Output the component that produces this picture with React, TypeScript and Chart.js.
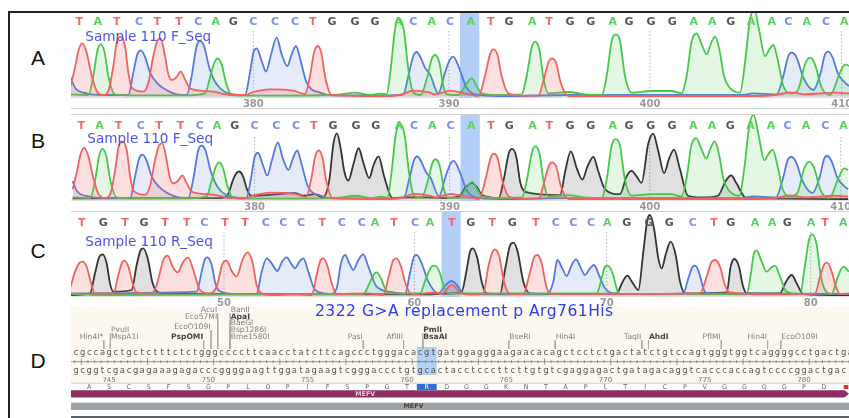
import React, { useEffect, useRef } from "react";
import { Chart, registerables } from "chart.js";

Chart.register(...registerables);

// Trace data: [scan, signal]
const redFwd = [[212,30],[225,85],[235,135],[247,158],[260,130],[272,75],[290,15],[310,3],[325,15],[340,90],[350,160],[362,178],[375,150],[385,70],[395,25],[430,13],[445,40],[460,120],[472,165],[482,173],[495,120],[505,65],[515,48],[528,55],[542,73],[555,50],[570,23],[600,16],[640,13],[690,3],[735,3],[760,12],[810,20],[880,16],[915,6],[930,60],[942,130],[953,150],[965,125],[975,60],[995,3],[1150,0],[1200,3],[1240,16],[1290,10],[1305,5],[1350,16],[1395,8],[1435,0],[1455,60],[1470,125],[1480,140],[1492,125],[1505,60],[1525,8],[1565,1],[1615,1],[1630,45],[1645,100],[1655,113],[1668,100],[1682,40],[1705,0],[2275,0],[2325,3],[2375,11],[2415,5],[2505,10],[2547,8]];
const greenFwd = [[212,5],[265,3],[280,60],[292,135],[302,155],[314,130],[325,60],[345,5],[400,2],[560,2],[615,8],[630,55],[643,100],[653,113],[665,95],[678,40],[695,3],[735,1],[1000,3],[1065,10],[1110,3],[1140,7],[1160,5],[1172,80],[1185,200],[1198,232],[1212,195],[1225,80],[1240,10],[1262,3],[1280,50],[1295,110],[1305,123],[1318,100],[1330,30],[1340,5],[1375,3],[1395,30],[1415,53],[1430,30],[1445,8],[1495,3],[1565,5],[1580,60],[1595,145],[1605,163],[1618,140],[1630,55],[1645,8],[1705,12],[1755,5],[1805,3],[1820,60],[1835,165],[1848,185],[1860,165],[1875,60],[1895,10],[1955,15],[2015,15],[2045,8],[2060,60],[2075,165],[2090,188],[2105,155],[2120,125],[2132,155],[2145,178],[2158,140],[2172,60],[2185,30],[2220,10],[2235,100],[2250,230],[2263,260],[2277,200],[2295,120],[2308,140],[2320,153],[2335,100],[2350,30],[2375,8],[2395,20],[2415,95],[2430,115],[2445,95],[2465,25],[2490,3],[2520,70],[2535,95],[2547,90]];
const blueFwd = [[212,55],[225,25],[260,8],[310,3],[385,3],[400,70],[412,125],[423,137],[436,115],[450,70],[470,40],[520,8],[560,3],[575,60],[590,150],[600,165],[612,150],[628,85],[650,35],[700,5],[735,3],[750,70],[760,130],[770,143],[785,105],[798,73],[812,120],[830,175],[845,125],[862,90],[875,125],[888,150],[902,105],[920,40],[960,10],[1000,2],[1150,2],[1210,5],[1225,60],[1240,120],[1250,132],[1262,115],[1275,85],[1290,65],[1315,8],[1335,70],[1350,110],[1360,118],[1375,90],[1400,25],[1435,3],[1530,0],[1700,3],[2230,3],[2260,8],[2330,5],[2350,60],[2365,120],[2375,130],[2390,115],[2410,55],[2440,18],[2462,70],[2475,125],[2485,133],[2498,115],[2515,65],[2535,40],[2547,30]];
const blackFwd = [[212,2],[660,3],[680,15],[695,60],[705,80],[713,85],[725,70],[737,30],[750,10],[800,12],[880,18],[910,10],[940,15],[965,5],[985,60],[997,170],[1008,203],[1020,150],[1030,85],[1042,57],[1058,110],[1073,157],[1088,110],[1105,65],[1118,105],[1133,132],[1150,70],[1175,3],[1220,5],[1275,5],[1330,3],[1375,8],[1395,35],[1415,50],[1430,35],[1445,12],[1495,3],[1510,60],[1525,140],[1535,155],[1548,130],[1560,50],[1575,22],[1680,12],[1695,85],[1712,147],[1730,95],[1747,60],[1762,100],[1780,130],[1795,85],[1815,30],[1860,15],[1880,70],[1895,87],[1910,70],[1925,50],[1945,170],[1960,202],[1975,150],[1993,80],[2008,125],[2023,153],[2040,95],[2065,10],[2110,5],[2155,10],[2178,55],[2195,73],[2210,50],[2240,3],[2275,2],[2547,0]];

const redRev = [[212,25],[225,70],[237,95],[247,100],[260,85],[272,40],[285,5],[340,5],[355,60],[365,95],[373,103],[385,85],[398,35],[410,8],[455,5],[470,30],[490,105],[503,118],[518,85],[533,68],[550,100],[565,112],[580,75],[600,15],[625,5],[650,25],[668,95],[680,103],[695,72],[710,55],[727,105],[742,128],[757,100],[770,30],[785,5],[820,0],[890,3],[935,0],[950,60],[962,105],[970,110],[983,85],[995,35],[1010,3],[1100,5],[1150,0],[1165,50],[1180,105],[1190,110],[1203,85],[1218,30],[1235,3],[1275,5],[1305,8],[1325,3],[1355,30],[1385,5],[1420,2],[1450,5],[1465,85],[1478,130],[1485,137],[1498,115],[1512,40],[1530,3],[1570,3],[1588,60],[1603,115],[1612,120],[1625,95],[1638,30],[1650,3],[1700,3],[1800,3],[2100,5],[2120,55],[2135,100],[2145,105],[2160,85],[2175,30],[2190,8],[2300,2],[2445,4],[2460,55],[2475,95],[2482,97],[2495,70],[2508,25],[2520,3],[2547,5]];
const greenRev = [[212,3],[300,0],[1090,3],[1108,35],[1122,62],[1130,68],[1143,50],[1155,20],[1170,5],[1260,5],[1278,50],[1295,85],[1305,88],[1318,70],[1332,25],[1345,5],[1790,5],[1805,50],[1815,85],[1823,88],[1838,65],[1850,20],[1860,3],[2240,2],[2252,60],[2262,125],[2270,134],[2285,100],[2300,70],[2313,82],[2325,88],[2340,55],[2360,10],[2400,3],[2415,90],[2428,170],[2437,182],[2450,150],[2462,60],[2475,15],[2495,3],[2512,50],[2530,85],[2547,70]];
const blueRev = [[212,5],[590,10],[605,70],[615,108],[622,113],[635,90],[645,40],[655,15],[700,3],[770,3],[785,70],[800,110],[815,95],[832,72],[846,100],[860,113],[873,95],[885,80],[898,100],[910,110],[925,70],[945,15],[990,3],[1010,20],[1023,95],[1035,120],[1048,95],[1060,75],[1075,105],[1090,122],[1105,85],[1130,25],[1180,8],[1215,3],[1230,65],[1242,115],[1250,120],[1265,95],[1285,40],[1315,5],[1335,28],[1355,42],[1372,28],[1390,5],[1420,2],[1640,2],[1660,40],[1672,105],[1687,80],[1700,57],[1715,90],[1728,107],[1742,82],[1755,60],[1770,80],[1782,90],[1797,60],[1815,20],[1850,3],[2050,5],[2065,50],[2078,85],[2085,88],[2098,65],[2110,20],[2120,5],[2547,3]];
const blackRev = [[212,0],[270,5],[285,65],[298,115],[308,122],[320,95],[330,35],[340,10],[395,15],[410,90],[422,135],[430,140],[443,110],[458,35],[475,8],[520,3],[1275,2],[1350,5],[1385,10],[1400,75],[1410,130],[1418,140],[1432,110],[1445,40],[1460,5],[1500,3],[1515,75],[1530,148],[1540,157],[1553,130],[1570,40],[1590,5],[1650,3],[1850,5],[1868,40],[1882,58],[1897,38],[1915,15],[1930,130],[1942,225],[1950,240],[1962,200],[1975,110],[1985,80],[1998,125],[2012,160],[2027,120],[2040,40],[2055,5],[2180,8],[2192,85],[2203,108],[2217,85],[2228,30],[2240,5],[2340,5],[2358,40],[2375,60],[2390,35],[2410,3],[2547,0]];

// Base calls
const callsFwd = "TATCTTCAGCCCTGGGACACATGATGGAGGGAAGAACACA".split("");
const callScansFwd = [238,293,350,417,472,537,595,647,700,760,825,885,938,996,1065,1125,1195,1240,1295,1350,1412,1472,1527,1597,1647,1710,1772,1838,1887,1953,2017,2081,2137,2192,2253,2315,2365,2420,2478,2533];
const callsRev = "TGTGTTCTTCCCTCCATCATGTGTCCCAGGGCTGAAGATA".split("");
const callScansRev = [245,310,375,432,495,560,613,675,735,797,850,903,967,1025,1085,1125,1182,1245,1290,1355,1412,1477,1537,1607,1667,1720,1773,1822,1880,1947,2008,2078,2142,2192,2265,2317,2362,2433,2475,2530];

// Rulers
const rulerScansFwd = [760,1347,1950,2525];
const rulerLabelsFwd = ["380","390","400","410"];
const rulerScansRev = [672,1243,1820,2432];
const rulerLabelsRev = ["50","60","70","80"];

// Panel D
const panelNames = ["A","B","C","D"];
const strandTop = "cgccagctgctctttctctgggccccttcaacctatcttcagccctgggacacgtgatggagggaagaacacagctcctctgactatctgtccagtgggtggtcaggggcctgactga";
const strandBottom = "gcggtcgacgagaaagagacccggggaagttggatagaagtcgggaccctgtgcactacctcccttcttgtgtcgaggagactgatagacaggtcacccaccagtccccggactgact";
const residues = "ASCSFSGPLQPIFSPGTRDGGKNTAPLTICPVGGQGPD";
const residueNumbers = [745,750,755,760,765,770,775,780];
const enzymeNames = ["Hin4I*","PvuII","MspA1I","PspOMI","EcoO109I","AcuI","Eco57MI","BanII","ApaI","BaeGI","Bsp1286I","Bme1580I","PasI","AflIII","PmlI","BsaAI","BseRI","Hin4I","TaqII","AhdI","PflMI","Hin4I","EcoO109I"];
const enzymeSites = [4.2,5.2,5.2,19.3,20.4,21.4,21.4,23.3,23.3,23.3,23.3,23.3,43.4,49.5,52.4,52.4,65.4,72.4,85.5,86.5,97.5,104.5,106.5];
const enzymeRows = [0,1,0,0,1.5,4,3,4,3,2,1,0,0,0,1,0,0,0,0,0,0,0,0];
const enzymeSides = [-1,1,1,-1,-1,-1,-1,1,1,1,1,1,-1,-1,1,1,1,1,-1,1,-1,-1,1];
const enzymeBold = ["PspOMI","ApaI","PmlI","BsaAI","AhdI"];
const title = "2322 G>A replacement p Arg761His";

const SANS = "'DejaVu Sans', sans-serif";
const TOP = "#f0625f", GRN = "#45c84a", BLU = "#5578e0", BLK = "#333333";
const callColor: Record<string,string> = { T:"#f26a68", A:"#5dd05f", C:"#7d8ff0", G:"#555555" };

function tr(c: string, fill: number[]) {
  return { c, fill: `rgba(${fill.join(",")})` };
}

function tracePanel(canvas: HTMLCanvasElement, p: any) {
  const plugin = {
    id: "panel",
    beforeDatasetsDraw(chart: any) {
      const { ctx, chartArea: a, scales: { x, y } } = chart;
      ctx.save();
      // baseline band
      ctx.fillStyle = "#dedede";
      ctx.fillRect(a.left, y.getPixelForValue(0), a.width, a.bottom - y.getPixelForValue(0));
      // highlighted base
      ctx.fillStyle = "#b3cff8";
      const l = x.getPixelForValue(p.band[0]), r = x.getPixelForValue(p.band[1]);
      ctx.fillRect(l, a.top, r - l, a.bottom - a.top);
      // dotted guides
      ctx.strokeStyle = "#b5b5b5";
      ctx.setLineDash([1.5, 2]);
      p.rulerScans.forEach((s: number) => {
        const px = x.getPixelForValue(s);
        ctx.beginPath();
        ctx.moveTo(px, a.top + p.guideTop);
        ctx.lineTo(px, y.getPixelForValue(0));
        ctx.stroke();
      });
      ctx.restore();
    },
    afterDatasetsDraw(chart: any) {
      const { ctx, chartArea: a, scales: { x } } = chart;
      ctx.save();
      ctx.textAlign = "center";
      ctx.textBaseline = "middle";
      ctx.font = `bold 11px ${SANS}`;
      p.calls.forEach((b: string, i: number) => {
        ctx.fillStyle = callColor[b];
        ctx.fillText(b, x.getPixelForValue(p.callScans[i]), a.top + p.callY);
      });
      ctx.textAlign = "left";
      ctx.fillStyle = "#4a55e6";
      ctx.font = `13.6px ${SANS}`;
      ctx.fillText(p.sample, x.getPixelForValue(p.sampleScan), a.top + p.sampleY);
      ctx.restore();
    },
  };
  return new Chart(canvas, {
    type: "line",
    data: {
      datasets: p.traces.map((t: any) => ({
        data: t.pts.map(([x, y]: number[]) => ({ x, y })),
        borderColor: t.c,
        backgroundColor: t.fill,
        fill: { value: 0 },
        borderWidth: 1.8,
        pointRadius: 0,
        cubicInterpolationMode: "monotone",
      })),
    },
    options: {
      responsive: false,
      animation: false,
      layout: { padding: 0 },
      plugins: { legend: { display: false }, tooltip: { enabled: false } },
      scales: {
        x: {
          type: "linear",
          min: p.xMin,
          max: p.xMax,
          grid: { display: false, drawTicks: false },
          border: { display: false },
          afterBuildTicks(s: any) {
            s.ticks = p.rulerScans.map((value: number) => ({ value }));
          },
          afterFit(s: any) {
            s.height = p.axisH;
          },
          ticks: {
            autoSkip: false,
            maxRotation: 0,
            padding: 0,
            color: "#9a9a9a",
            font: { family: SANS, size: 10, weight: "bold" },
            callback: (v: number) => p.rulerLabels[p.rulerScans.indexOf(v)],
          },
        },
        y: { display: false, min: p.yMin, max: p.yMax },
      },
    } as any,
    plugins: [plugin as any],
  });
}

function detailPanel(canvas: HTMLCanvasElement) {
  const O = 296;
  const rowY = (r: number) => 336.7 - O - r * 6.67;
  const cuts: any[] = [];
  enzymeSites.forEach((s, i) => {
    cuts.push({ x: s, y: rowY(enzymeRows[i]) + 3.5 }, { x: s, y: 349 - O }, { x: null, y: null });
  });
  const plugin = {
    id: "detail",
    beforeDatasetsDraw(chart: any) {
      const { ctx, chartArea: a, scales: { x, y } } = chart;
      const Y = (py: number) => y.getPixelForValue(py - O);
      const X = (b: number) => x.getPixelForValue(b);
      ctx.save();
      ctx.fillStyle = "#fcf8ef";
      ctx.fillRect(a.left, Y(307), a.width, Y(384) - Y(307));
      ctx.fillStyle = "#b3d0f6";
      ctx.fillRect(X(51.5), Y(347), X(54.5) - X(51.5), Y(375) - Y(347));
      // Title
      ctx.fillStyle = "#2b3fe8";
      ctx.font = `15.6px ${SANS}`;
      (ctx as any).letterSpacing = "0.45px";
      ctx.textBaseline = "middle";
      ctx.textAlign = "left";
      ctx.fillText(title, 315 - 71, Y(312));
      (ctx as any).letterSpacing = "0px";
      // Enzyme names
      ctx.fillStyle = "#777777";
      enzymeNames.forEach((n, i) => {
        const bold = enzymeBold.includes(n);
        ctx.font = `${bold ? "bold " : ""}7.6px ${SANS}`;
        ctx.fillStyle = bold ? "#444444" : "#808080";
        ctx.textAlign = enzymeSides[i] > 0 ? "left" : "right";
        ctx.fillText(n, X(enzymeSites[i]) + enzymeSides[i] * 0.5, y.getPixelForValue(rowY(enzymeRows[i])));
      });
      // Strands
      ctx.textAlign = "center";
      ctx.fillStyle = "#555555";
      ctx.font = `8.4px ${SANS}`;
      strandTop.split("").forEach((c, i) => ctx.fillText(c, X(i), Y(353)));
      strandBottom.split("").forEach((c, i) => ctx.fillText(c, X(i), Y(370.7)));
      // Double-strand ruler
      ctx.strokeStyle = "#777777";
      ctx.lineWidth = 0.8;
      ctx.beginPath();
      ctx.moveTo(a.left, Y(361.7));
      ctx.lineTo(a.right, Y(361.7));
      for (let i = 0; i < strandTop.length; i++) {
        const h = i % 10 === 1 ? 3 : 1.4;
        ctx.moveTo(X(i - 0.2), Y(361.7) - h);
        ctx.lineTo(X(i - 0.2), Y(361.7) + h);
      }
      ctx.stroke();
      // Residue axis
      ctx.strokeStyle = "#c9c9c9";
      ctx.beginPath();
      ctx.moveTo(a.left, Y(383.3));
      ctx.lineTo(a.right, Y(383.3));
      residues.split("").forEach((_, i) => {
        ctx.moveTo(X(2 + 3 * i), Y(383.3));
        ctx.lineTo(X(2 + 3 * i), Y(385));
      });
      ctx.stroke();
      ctx.fillStyle = "#2f6fd6";
      ctx.fillRect(X(51.5), Y(384), X(54.5) - X(51.5), Y(390) - Y(384));
      ctx.font = `6.4px ${SANS}`;
      residues.split("").forEach((c, i) => {
        ctx.fillStyle = c === "R" ? "#ffffff" : "#666666";
        ctx.fillText(c, X(2 + 3 * i), Y(387));
      });
      ctx.fillStyle = "#e03030";
      ctx.fillRect(X(116), Y(385), X(116.7) - X(116), Y(389) - Y(385));
      ctx.fillStyle = "#777777";
      ctx.font = `7px ${SANS}`;
      residueNumbers.forEach((n) => ctx.fillText(String(n), X(2 + 3 * (n - 744)), Y(380.5)));
      // Annotation bars
      ctx.fillStyle = "#8d2f60";
      ctx.beginPath();
      ctx.moveTo(a.left, Y(390.2));
      ctx.lineTo(X(116.1), Y(390.2));
      ctx.lineTo(X(116.8), Y(393.8));
      ctx.lineTo(X(116.1), Y(397.4));
      ctx.lineTo(a.left, Y(397.4));
      ctx.fill();
      ctx.fillStyle = "#9ea3a7";
      ctx.fillRect(a.left, Y(402.7), a.width, Y(410) - Y(402.7));
      ctx.fillStyle = "#5c6166";
      ctx.fillRect(a.left, Y(416), a.width, Y(418) - Y(416));
      ctx.font = `bold 6.4px ${SANS}`;
      ctx.fillStyle = "#e7c7d6";
      ctx.fillText("MEFV", X(43.7), Y(394));
      ctx.fillStyle = "#444444";
      ctx.fillText("MEFV", X(51), Y(406.5));
      ctx.restore();
    },
  };
  return new Chart(canvas, {
    type: "line",
    data: {
      datasets: [
        {
          data: cuts,
          borderColor: "#a9a9a9",
          borderWidth: 0.9,
          pointRadius: 0,
          spanGaps: false,
          fill: false,
        },
      ],
    },
    options: {
      responsive: false,
      animation: false,
      layout: { padding: 0 },
      plugins: { legend: { display: false }, tooltip: { enabled: false } },
      scales: {
        x: { type: "linear", display: false, min: -0.756, max: 116.8 },
        y: { display: false, reverse: true, min: 0, max: 122 },
      },
    } as any,
    plugins: [plugin as any],
  });
}

const fwdTraces = () => [
  { pts: redFwd, ...tr(TOP, [240, 98, 95, 0.2]) },
  { pts: greenFwd, ...tr(GRN, [70, 200, 75, 0.15]) },
  { pts: blueFwd, ...tr(BLU, [85, 120, 224, 0.15]) },
];

const panels: any[] = [
  { top: 12, h: 98, axisH: 12, xMin: 213, xMax: 2613, yMin: -6, yMax: 252, band: [1380, 1438], guideTop: 19, callY: 10, sample: "Sample 110 F_Seq", sampleScan: 256, sampleY: 25,
    traces: fwdTraces(), calls: callsFwd, callScans: callScansFwd, rulerScans: rulerScansFwd, rulerLabels: rulerLabelsFwd },
  { top: 115, h: 96, axisH: 10, xMin: 207, xMax: 2616, yMin: -6.2, yMax: 259.8, band: [1380, 1438], guideTop: 22, callY: 11, sample: "Sample 110 F_Seq", sampleScan: 256, sampleY: 24,
    traces: [...fwdTraces(), { pts: blackFwd, ...tr(BLK, [70, 70, 70, 0.17]) }], calls: callsFwd, callScans: callScansFwd, rulerScans: rulerScansFwd, rulerLabels: rulerLabelsFwd },
  { top: 212, h: 97, axisH: 12, xMin: 213, xMax: 2613, yMin: -6, yMax: 249, band: [1325, 1382], guideTop: 20, callY: 11, sample: "Sample 110 R_Seq", sampleScan: 256, sampleY: 30,
    traces: [
      { pts: redRev, ...tr(TOP, [240, 98, 95, 0.2]) },
      { pts: greenRev, ...tr(GRN, [70, 200, 75, 0.15]) },
      { pts: blueRev, ...tr(BLU, [85, 120, 224, 0.15]) },
      { pts: blackRev, ...tr(BLK, [70, 70, 70, 0.17]) },
    ], calls: callsRev, callScans: callScansRev, rulerScans: rulerScansRev, rulerLabels: rulerLabelsRev },
];

const labelY = [58, 141, 251, 361];
const lines = [
  { left: 71, top: 108, h: 1, c: "#d0d0d0" },
  { left: 71, top: 114, h: 1, c: "#cfcfcf" },
  { left: 71, top: 211, h: 1, c: "#d0d0d0" },
];

export default function App() {
  const refs = useRef<(HTMLCanvasElement | null)[]>([]);
  useEffect(() => {
    const charts = panels.map((p, i) => tracePanel(refs.current[i]!, p));
    charts.push(detailPanel(refs.current[3]!));
    return () => charts.forEach((c) => c.destroy());
  }, []);
  const cv = (i: number, top: number, w: number, h: number) => (
    <canvas
      ref={(el) => { refs.current[i] = el; }}
      width={w}
      height={h}
      style={{ position: "absolute", left: 71, top, width: w, height: h, display: "block", filter: "blur(0.45px)" }}
    />
  );
  return (
    <div style={{ position: "fixed", left: 0, top: 0, width: 849, height: 418, overflow: "hidden", background: "#fff" }}>
      {cv(0, panels[0].top, 800, panels[0].h)}
      {cv(1, panels[1].top, 800, panels[1].h)}
      {cv(2, panels[2].top, 800, panels[2].h)}
      {cv(3, 296, 778, 122)}
      <div style={{ position: "absolute", left: 8, top: 11, width: 841, height: 1.5, background: "#222" }} />
      <div style={{ position: "absolute", left: 8, top: 11, width: 1.5, height: 407, background: "#222" }} />
      {lines.map((l, i) => (
        <div key={i} style={{ position: "absolute", left: l.left, top: l.top, width: 778, height: l.h, background: l.c }} />
      ))}
      {panelNames.map((n, i) => (
        <div key={n} style={{ position: "absolute", left: 28, top: labelY[i] - 14, width: 20, height: 28, lineHeight: "28px", textAlign: "center", fontFamily: "'Liberation Sans', sans-serif", fontSize: 21, color: "#111" }}>
          {n}
        </div>
      ))}
    </div>
  );
}
